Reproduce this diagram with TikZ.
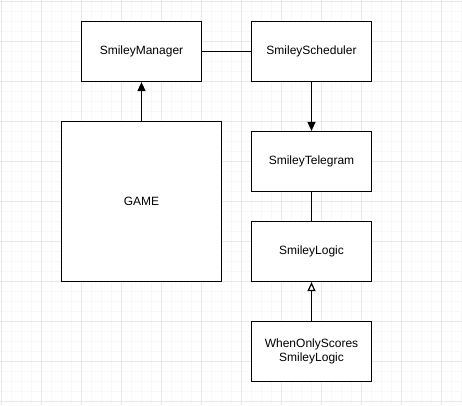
\documentclass[tikz,border=0pt]{standalone}
\usepackage{fontspec}
\setmainfont{Liberation Sans}
\usetikzlibrary{arrows.meta}
\definecolor{gridminor}{RGB}{248,248,248}
\definecolor{gridmajor}{RGB}{233,233,233}
\begin{document}
\begin{tikzpicture}[x=1pt,y=-1pt,
  box/.style={draw=black,line width=1.2pt,fill=white,inner sep=0pt,align=center,
    font=\fontsize{12}{14.5}\selectfont},
  link/.style={line width=1.2pt},
  solidarrow/.style={link,-{Triangle[width=8pt,length=9pt]}},
  openarrow/.style={link,-{Triangle[open,fill=white,width=8pt,length=9pt]}}]
\useasboundingbox (0,0) rectangle (462,405);
\fill[white] (0,0) rectangle (462,405);
% minor grid
\foreach \i in {0,...,46} {\draw[line width=1pt,gridminor] (1.5+10*\i,0) -- (1.5+10*\i,405);}
\foreach \j in {0,...,40} {\draw[line width=1pt,gridminor] (0,1.5+10*\j) -- (462,1.5+10*\j);}
% major grid
\foreach \i in {0,...,11} {\draw[line width=1pt,gridmajor] (1.5+40*\i,0) -- (1.5+40*\i,405);}
\foreach \j in {0,...,10} {\draw[line width=1pt,gridmajor] (0,1.5+40*\j) -- (462,1.5+40*\j);}
% nodes
\node[box,minimum width=120pt,minimum height=60pt] (mgr) at (141.5,51.5) {SmileyManager};
\node[box,minimum width=120pt,minimum height=60pt] (sch) at (311.5,51.5) {SmileyScheduler};
\node[box,minimum width=120pt,minimum height=60pt] (tel) at (311.5,161.5) {SmileyTelegram};
\node[box,minimum width=160pt,minimum height=160pt] (game) at (141.5,201.5) {GAME};
\node[box,minimum width=120pt,minimum height=60pt] (logic) at (311.5,251.5) {SmileyLogic};
\node[box,minimum width=120pt,minimum height=60pt] (when) at (311.5,351.5) {WhenOnlyScores\\SmileyLogic};
% connectors
\draw[solidarrow] (game.north) -- (mgr.south);
\draw[link] (mgr.east) -- (sch.west);
\draw[solidarrow] (sch.south) -- (tel.north);
\draw[link] (tel.south) -- (logic.north);
\draw[openarrow] (when.north) -- (logic.south);
\end{tikzpicture}
\end{document}
